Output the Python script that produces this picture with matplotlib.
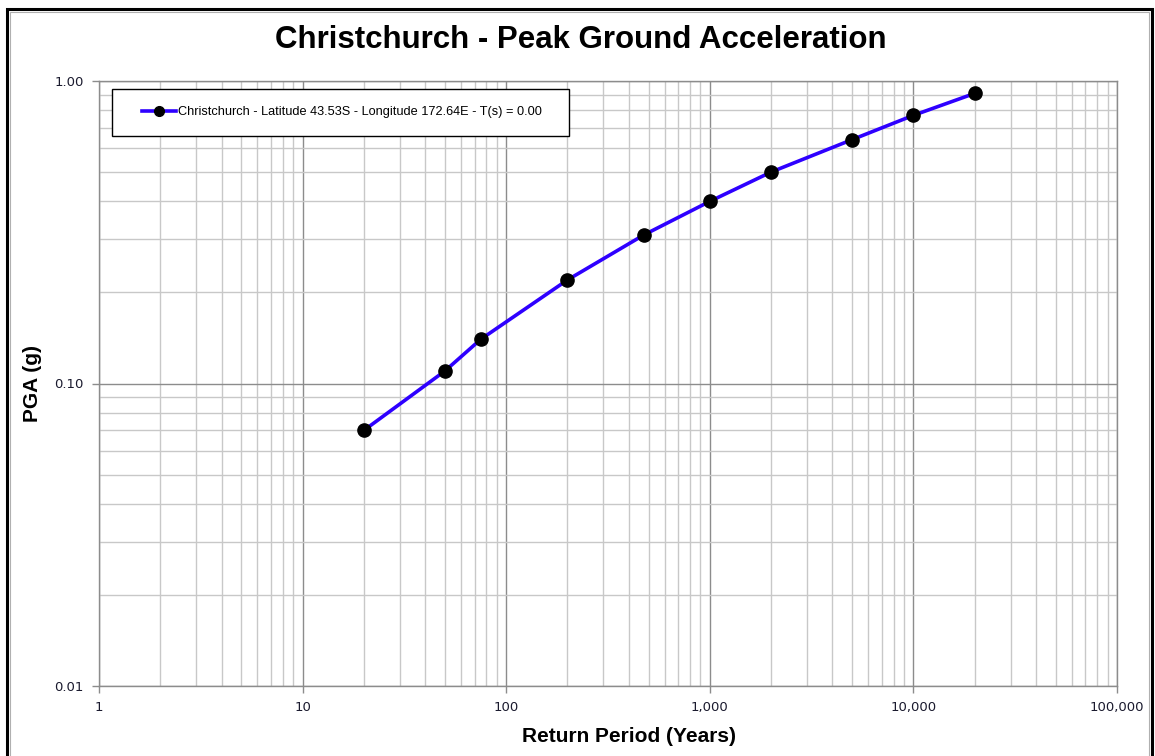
import matplotlib
matplotlib.use("Agg")
from matplotlib import pyplot as plt
from matplotlib.patches import Rectangle
from matplotlib.legend_handler import HandlerLine2D
from matplotlib.ticker import FixedLocator, FuncFormatter, LogLocator, NullFormatter

# Hazard curve for Christchurch, PGA against return period
return_period = [20, 50, 75, 200, 475, 1000, 2000, 5000, 10000, 20000]
pga = [0.07, 0.11, 0.14, 0.22, 0.31, 0.40, 0.50, 0.64, 0.77, 0.91]

series_label = "Christchurch - Latitude 43.53S - Longitude 172.64E - T(s) = 0.00"
title = "Christchurch - Peak Ground Acceleration"
x_title = "Return Period (Years)"
y_title = "PGA (g)"

x_ticks = [1, 10, 100, 1000, 10000, 100000]
y_ticks = [0.01, 0.1, 1.0]

W, H = 1155, 756
fig = plt.figure(figsize=(W / 100, H / 100), dpi=100)
ax = fig.add_axes([99 / W, 1 - 686 / H, (1117 - 99) / W, (686 - 81) / H])

ax.plot(return_period, pga, color="#2e00ff", lw=2.6, marker="o", ms=9.5,
        markerfacecolor="black", markeredgecolor="black", label=series_label, zorder=3)

ax.set_xscale("log")
ax.set_yscale("log")
ax.set_xlim(1, 100000)
ax.set_ylim(0.01, 1.0)

ax.xaxis.set_major_locator(FixedLocator(x_ticks))
ax.yaxis.set_major_locator(FixedLocator(y_ticks))
ax.xaxis.set_minor_locator(LogLocator(base=10, subs=range(2, 10), numticks=20))
ax.yaxis.set_minor_locator(LogLocator(base=10, subs=range(2, 10), numticks=20))
ax.xaxis.set_minor_formatter(NullFormatter())
ax.yaxis.set_minor_formatter(NullFormatter())
ax.xaxis.set_major_formatter(FuncFormatter(lambda v, p: f"{v:,.0f}"))
ax.yaxis.set_major_formatter(FuncFormatter(lambda v, p: f"{v:.2f}"))

ax.grid(which="major", color="#8c8c8c", lw=1.0)
ax.grid(which="minor", color="#c8c8c8", lw=1.0)
ax.set_axisbelow(True)
for s in ax.spines.values():
    s.set_color("#8c8c8c")
    s.set_linewidth(1.0)

ax.tick_params(which="major", length=5, width=1, color="#8c8c8c",
               labelsize=9.5, labelcolor="#1a1a2e", pad=6)
ax.tick_params(which="minor", length=0)

fig.text(0.5025, 1 - 40 / H, title, ha="center", va="center", fontsize=22.5,
         fontweight="bold", family="Liberation Sans")
fig.text(629 / W, 1 - 736 / H, x_title, ha="center", va="center", fontsize=15,
         fontweight="bold", family="Liberation Sans")
fig.text(33 / W, 1 - 384 / H, y_title, ha="center", va="center", rotation=90,
         fontsize=15, fontweight="bold", family="Liberation Sans")

# legend box spans a fixed width, key line indented from the left edge
fs = 9.2
fs_px = fs * 100 / 72
pad = 1.35
box_x0 = (112 - 99) / 1018
box_w = (569 - 112) / 1018
box_top = (686 - 89) / 605
leg = ax.legend(loc="upper left", bbox_to_anchor=(box_x0, box_top - 0.2, box_w, 0.2),
                mode="expand", fancybox=False, framealpha=1, edgecolor="black",
                prop={"family": "Liberation Sans", "size": fs},
                borderpad=pad, borderaxespad=0,
                handlelength=(176 - 112 - pad * fs_px) / fs_px,
                handletextpad=0.15,
                handler_map={ax.get_lines()[0]: HandlerLine2D(xpad=(142 - 112 - pad * fs_px) / fs_px)})
leg.get_frame().set_linewidth(1.0)
leg.get_lines()[0].set_markersize(7)

# chart frame around the whole figure
fig.patches.append(Rectangle((7 / W, -0.01), (1152 - 7) / W, 1 - 9 / H + 0.01,
                             transform=fig.transFigure, fill=False, edgecolor="black", lw=2.2))
fig.patches.append(Rectangle((10 / W, -0.01), (1149 - 10) / W, 1 - 12 / H + 0.01,
                             transform=fig.transFigure, fill=False, edgecolor="#b0b0b0", lw=0.8))

fig.savefig("out.png", dpi=100)
